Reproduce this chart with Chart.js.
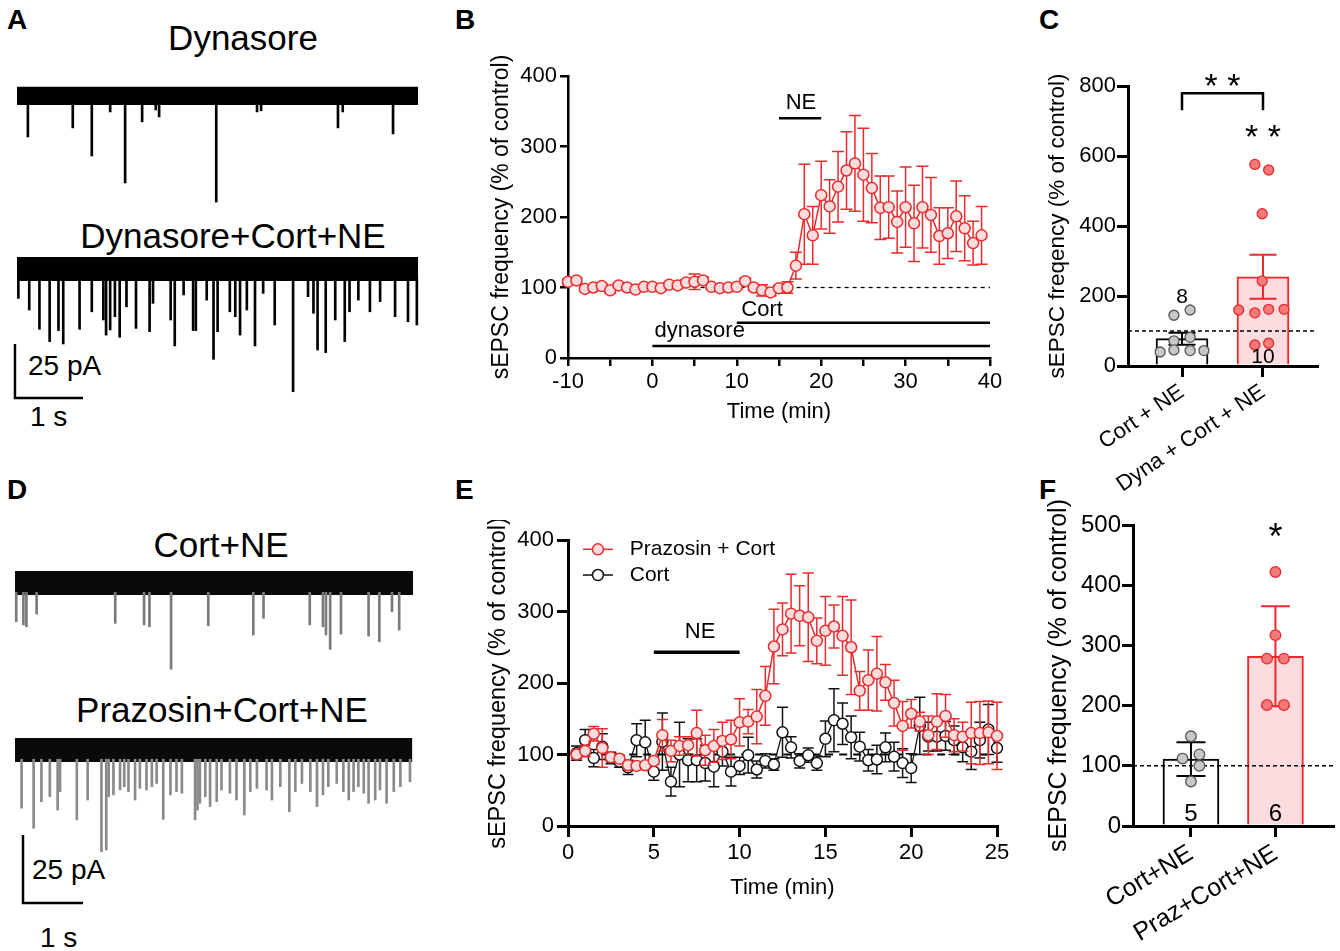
<!DOCTYPE html>
<html><head><meta charset="utf-8">
<script src="https://cdn.jsdelivr.net/npm/chart.js@4.4.1/dist/chart.umd.min.js"></script>
<style>
html,body{margin:0;padding:0;background:#fff;}
body{width:1340px;height:951px;position:relative;overflow:hidden;font-family:"Liberation Sans",Arial,sans-serif;color:#000;}
canvas{position:absolute;}
.t{position:absolute;line-height:1;white-space:nowrap;}
.L{font-weight:bold;font-size:28px;}
.h{font-size:35px;transform:translateX(-50%);}
.s{font-size:28px;}
</style></head><body>
<div class="t L" style="left:7px;top:6px">A</div>
<div class="t L" style="left:455px;top:6px">B</div>
<div class="t L" style="left:1039px;top:6px">C</div>
<div class="t L" style="left:7px;top:476px">D</div>
<div class="t L" style="left:455px;top:476px">E</div>
<div class="t L" style="left:1039px;top:476px">F</div>
<div class="t h" style="left:243px;top:20px">Dynasore</div>
<div class="t h" style="left:233px;top:218px">Dynasore+Cort+NE</div>
<div class="t h" style="left:221px;top:527px">Cort+NE</div>
<div class="t h" style="left:222px;top:692px">Prazosin+Cort+NE</div>
<div class="t s" style="left:28px;top:352px">25 pA</div>
<div class="t s" style="left:30px;top:403px">1 s</div>
<div class="t s" style="left:32px;top:856px">25 pA</div>
<div class="t s" style="left:40px;top:924px">1 s</div>

<canvas id="cA1" width="425" height="140" style="left:0;top:70px"></canvas>
<canvas id="cA2" width="425" height="185" style="left:0;top:245px"></canvas>
<canvas id="cD1" width="425" height="130" style="left:0;top:555px"></canvas>
<canvas id="cD2" width="425" height="190" style="left:0;top:725px"></canvas>
<canvas id="cB" width="526" height="373" style="left:484px;top:56px"></canvas>
<canvas id="cE" width="535" height="385" style="left:480px;top:520px"></canvas>
<canvas id="cF" width="300" height="451" style="left:1040px;top:500px"></canvas>
<canvas id="cC" width="300" height="466" style="left:1040px;top:40px"></canvas>
<script>
// ---------------- DATA ----------------
// Panel A traces (time in s, event amplitude in pA)
const a1Time = [0.16,0.82,1.10,1.37,1.59,1.84,2.04,2.09,2.93,3.53,3.59,4.72,4.79,5.53];
const a1Amp  = [-19.0,-14.8,-27.8,-7.4,-40.3,-12.0,-6.5,-9.7,-49.1,-7.4,-6.9,-14.8,-7.4,-17.6];
const a2Time = [0.02,0.18,0.33,0.48,0.61,0.68,0.92,1.10,1.27,1.31,1.37,1.44,1.51,1.61,1.75,1.95,2.00,2.26,2.32,2.45,2.59,2.63,2.79,2.89,2.95,3.13,3.21,3.28,3.38,3.50,3.62,3.79,4.06,4.28,4.36,4.42,4.54,4.68,4.82,4.89,5.02,5.19,5.34,5.56,5.75,5.88];
const a2Amp  = [-13.6,-19.0,-27.9,-33.6,-28.5,-34.7,-27.9,-19.8,-23.6,-30.6,-28.2,-22.1,-31.6,-17.5,-27.5,-29.0,-15.9,-23.6,-35.6,-12.0,-28.5,-28.5,-14.4,-41.8,-29.0,-19.8,-22.1,-30.6,-19.0,-35.6,-11.3,-25.9,-56.8,-12.8,-20.5,-37.5,-38.7,-23.6,-33.6,-19.8,-14.4,-19.8,-15.1,-22.1,-24.4,-25.9];
// Panel D traces
const d1Time = [0.02,0.14,0.19,0.36,1.67,2.15,2.24,2.60,3.22,3.97,4.14,4.91,5.13,5.18,5.25,5.43,5.89,6.07,6.28,6.40];
const d1Amp  = [-14.2,-15.4,-16.1,-11.4,-14.8,-15.4,-16.1,-31.7,-15.7,-19.1,-13.0,-15.4,-16.1,-19.1,-24.4,-18.8,-19.5,-21.6,-10.6,-17.3];
const d2Time = [0.11,0.31,0.44,0.58,0.71,0.75,1.03,1.21,1.44,1.52,1.56,1.64,1.75,1.82,1.89,2.00,2.08,2.19,2.28,2.36,2.47,2.59,2.69,2.78,3.00,3.04,3.08,3.17,3.25,3.36,3.44,3.58,3.69,3.82,3.92,4.03,4.19,4.28,4.42,4.57,4.67,4.78,4.92,5.03,5.13,5.22,5.36,5.47,5.56,5.64,5.72,5.81,5.89,6.00,6.08,6.19,6.31,6.42,6.58];
const d2Amp  = [-21.4,-28.8,-19.0,-17.2,-22.1,-15.3,-25.7,-18.4,-37.4,-36.8,-17.2,-16.5,-14.7,-13.5,-15.3,-18.4,-14.1,-14.7,-13.5,-12.3,-25.5,-16.5,-15.3,-15.9,-25.7,-22.1,-19.6,-17.2,-20.8,-19.0,-14.7,-15.9,-18.4,-23.9,-15.3,-14.1,-14.7,-18.4,-13.5,-22.7,-15.3,-12.3,-15.3,-20.8,-16.5,-13.5,-12.3,-15.3,-18.4,-15.3,-13.5,-15.9,-19.6,-18.4,-14.7,-19.6,-15.3,-13.5,-11.7];
const scaleBarPA = 25, scaleBarS = 1;

// Panel B
const bTime = [-10,-9,-8,-7,-6,-5,-4,-3,-2,-1,0,1,2,3,4,5,6,7,8,9,10,11,12,13,14,15,16,17,18,19,20,21,22,23,24,25,26,27,28,29,30,31,32,33,34,35,36,37,38,39];
const bMean = [108,110,98,100,102,96,103,100,97,101,101,99,104,103,107,108,110,101,99,100,101,109,100,96,93,99,100,131,204,174,231,215,243,266,276,260,241,213,214,193,214,191,214,203,173,177,201,184,163,174];
const bErr  = [4,4,3,3,3,4,3,3,3,3,3,3,3,4,4,11,5,3,3,3,3,4,4,8,5,4,8,19,71,41,48,38,50,55,68,66,49,45,44,44,57,54,58,53,40,36,50,46,31,41];
const bNEBar = [15,20], bCortBar = [10,40], bDynaBar = [0,40];

// Panel C
const cCats = ['Cort + NE','Dyna + Cort + NE'];
const cMean = [78,255];
const cErr  = [17,63];
const cN    = ['8','10'];
const cPts1 = [40,145,160,72,82,46,44,44];
const cJit1 = [-0.27,-0.1,0.1,-0.1,0.1,-0.1,0.1,0.27];
const cPts2 = [576,560,435,243,160,152,162,162,60,65];
const cJit2 = [-0.1,0.07,-0.01,-0.01,-0.3,-0.1,0.07,0.26,-0.1,0.07];

// Panel E
const eTime = [0.5,1,1.5,2,2.5,3,3.5,4,4.5,5,5.5,6,6.5,7,7.5,8,8.5,9,9.5,10,10.5,11,11.5,12,12.5,13,13.5,14,14.5,15,15.5,16,16.5,17,17.5,18,18.5,19,19.5,20,20.5,21,21.5,22,22.5,23,23.5,24,24.5,25];
const ePraz    = [100,105,129,109,96,94,85,84,85,91,127,105,112,113,130,106,112,119,121,145,146,153,182,251,275,297,294,292,259,273,279,266,250,189,204,213,201,172,140,157,146,127,146,154,127,125,130,130,131,126];
const ePrazErr = [6,8,10,27,5,5,5,5,5,5,22,15,13,12,32,21,23,26,27,33,17,38,41,52,37,55,42,62,32,48,30,55,66,27,42,52,25,32,34,20,13,27,39,30,23,20,43,44,44,47];
const eCort    = [102,120,95,111,95,90,82,120,117,76,118,62,100,92,92,88,83,104,76,84,99,79,91,86,131,110,91,99,88,122,148,143,124,111,92,93,110,97,88,81,140,125,125,126,120,110,104,120,135,109];
const eCortErr = [10,15,12,18,8,8,10,23,31,12,40,20,45,30,30,25,28,20,20,12,25,12,10,8,35,15,10,10,10,25,44,29,30,20,15,20,20,20,20,20,40,20,20,20,20,20,25,25,35,20];
const eNEBar = [5,10];
const eSeries = ['Prazosin + Cort','Cort'];

// Panel F
const fCats = ['Cort+NE','Praz+Cort+NE'];
const fMean = [111,282];
const fErr  = [28,83];
const fN    = ['5','6'];
const fPts1 = [149,112,119,100,74];
const fJit1 = [0,-0.1,0.1,0.1,0];
const fPts2 = [422,317,278,278,201,201];
const fJit2 = [0,0,-0.1,0.1,-0.1,0.1];

// ---------------- STYLE / HELPERS ----------------
const FONT = '"Liberation Sans", Arial, sans-serif';
const RED = '#ec2a2c', PINK = '#fddcdd', PINKBAR = '#fcdcdf', REDPT = '#f17a7b';
Chart.defaults.font.family = FONT;
Chart.defaults.color = '#000';
Chart.defaults.animation = false;
Chart.defaults.plugins.legend.display = false;
Chart.defaults.plugins.tooltip.enabled = false;

function drawErr(chart, i, phase){
  const ds = chart.data.datasets[i];
  if(!ds.errors || (ds.errPhase || 'after') !== phase) return;
  const meta = chart.getDatasetMeta(i);
  const ys = chart.scales[meta.yAxisID];
  const ctx = chart.ctx;
  ctx.save();
  meta.data.forEach((el, j) => {
    const e = ds.errors[j]; if(!e) return;
    const v = ds.data[j].y;
    const x = el.x;
    const yt = ys.getPixelForValue(v + e), yb = ys.getPixelForValue(v - e);
    const c = ds.errCap / 2;
    ctx.strokeStyle = Array.isArray(ds.errColor) ? ds.errColor[j] : ds.errColor;
    ctx.lineWidth = ds.errWidth;
    ctx.beginPath();
    ctx.moveTo(x, yt); ctx.lineTo(x, yb);
    ctx.moveTo(x - c, yt); ctx.lineTo(x + c, yt);
    ctx.moveTo(x - c, yb); ctx.lineTo(x + c, yb);
    ctx.stroke();
  });
  ctx.restore();
}
const errPlugin = {
  id: 'errbars',
  beforeDatasetDraw(chart, args){ drawErr(chart, args.index, 'before'); },
  afterDatasetDraw(chart, args){ drawErr(chart, args.index, 'after'); }
};
function textPlugin(items){
  return {
    id: 'txt',
    afterDraw(chart){
      const ctx = chart.ctx, xs = chart.scales.x, ys = chart.scales.y;
      ctx.save();
      items.forEach(it => {
        ctx.font = it.size + 'px ' + FONT;
        ctx.fillStyle = '#000';
        ctx.textAlign = it.align || 'center';
        const px = xs.getPixelForValue(it.x), py = ys.getPixelForValue(it.y);
        if(it.star){ ctx.textBaseline = 'alphabetic'; ctx.fillText(it.t, px, py + 0.58 * it.size); }
        else { ctx.textBaseline = 'middle'; ctx.fillText(it.t, px, py); }
      });
      ctx.restore();
    }
  };
}
function yAxis(min, max, step, size, tl, lw, pad, title, tsize, width){
  return {
    type: 'linear', min, max,
    ticks: { stepSize: step, font: { size }, padding: pad },
    grid: { display: true, drawOnChartArea: false, drawTicks: true, tickLength: tl, lineWidth: lw, color: '#000' },
    border: { display: true, color: '#000', width: lw },
    title: { display: true, text: title, font: { size: tsize }, padding: { top: 4, bottom: 4 } },
    afterFit: s => { s.width = width; }
  };
}

// ---------------- TRACES ----------------
function trace(id, o){
  const datasets = [
    { type: 'line', data: [{x:0,y:o.band},{x:o.tEnd,y:o.band}], borderWidth: 0, pointRadius: 0, fill: '+1', backgroundColor: o.bandColor, order: 3 },
    { type: 'line', data: [{x:0,y:-o.band},{x:o.tEnd,y:-o.band}], borderWidth: 0, pointRadius: 0, fill: false, order: 3 },
    { type: 'bar', data: o.times.map((t,i) => ({x: t, y: [-o.band + 1, o.amps[i]]})), backgroundColor: o.color, barThickness: 2, order: 2 }
  ];
  if(o.bar){
    const b = o.bar;
    datasets.push({ type: 'line', data: [{x:b.t,y:b.y + scaleBarPA},{x:b.t,y:b.y},{x:b.t + scaleBarS,y:b.y}], borderColor: '#000', borderWidth: 2.5, pointRadius: 0, fill: false, tension: 0, order: 1, clip: false });
  }
  new Chart(document.getElementById(id), {
    type: 'bar',
    data: { datasets },
    options: {
      responsive: false,
      layout: { padding: 0 },
      scales: {
        x: { type: 'linear', display: false, min: o.xMin, max: o.xMax, offset: false, grid: { offset: false } },
        y: { type: 'linear', display: false, min: o.yMin, max: o.yMax }
      }
    }
  });
}
trace('cA1', { times: a1Time, amps: a1Amp, band: 4.2, tEnd: 5.9, xMin: -0.25, xMax: 6.0, yMin: -52.8, yMax: 12.0, color: '#000', bandColor: '#000' });
trace('cA2', { times: a2Time, amps: a2Amp, band: 5.5, tEnd: 5.9, xMin: -0.25, xMax: 6.0, yMin: -74.5, yMax: 11.1, color: '#000', bandColor: '#000', bar: { t: -0.03, y: -59.7 } });
trace('cD1', { times: d1Time, amps: d1Amp, band: 4.4, tEnd: 6.63, xMin: -0.25, xMax: 6.83, yMin: -37.5, yMax: 10.3, color: '#7a7a7a', bandColor: '#0a0a0a' });
trace('cD2', { times: d2Time, amps: d2Amp, band: 4.4, tEnd: 6.62, xMin: -0.25, xMax: 6.83, yMin: -60.7, yMax: 9.2, color: '#8a8a8a', bandColor: '#0a0a0a', bar: { t: 0.133, y: -56.25 } });

// ---------------- PANEL B ----------------
new Chart(document.getElementById('cB'), {
  type: 'line',
  data: { datasets: [
    { data: bTime.map((t,i) => ({x: t, y: bMean[i]})), errors: bErr, errPhase: 'before', errColor: RED, errCap: 12, errWidth: 1.5,
      borderColor: RED, borderWidth: 1.5, pointRadius: 5.5, pointBorderWidth: 1.5, pointBorderColor: RED, pointBackgroundColor: PINK, clip: false, order: 1 },
    { data: [{x:-8.5,y:100},{x:40,y:100}], borderColor: '#000', borderWidth: 1.3, borderDash: [4,4], pointRadius: 0, order: 3 },
    { data: [{x:bNEBar[0],y:340},{x:bNEBar[1],y:340}], borderColor: '#000', borderWidth: 2.5, pointRadius: 0, order: 2 },
    { data: [{x:bCortBar[0],y:50},{x:bCortBar[1],y:50}], borderColor: '#000', borderWidth: 2.5, pointRadius: 0, order: 2 },
    { data: [{x:bDynaBar[0],y:17},{x:bDynaBar[1],y:17}], borderColor: '#000', borderWidth: 2.5, pointRadius: 0, order: 2 }
  ]},
  options: {
    responsive: false,
    layout: { padding: { top: 20, right: 20, left: 0, bottom: 0 } },
    scales: {
      x: { type: 'linear', min: -10, max: 40,
        ticks: { stepSize: 5, autoSkip: false, maxRotation: 0, font: { size: 22 }, padding: 3, callback: v => (v % 10 === 0 ? String(v) : '') },
        grid: { display: true, drawOnChartArea: false, tickLength: 8, lineWidth: 2.5, color: '#000' },
        border: { display: true, color: '#000', width: 2.5 },
        title: { display: true, text: 'Time (min)', font: { size: 22 }, padding: { top: 4, bottom: 4 } },
        afterFit: s => { s.height = 71; } },
      y: yAxis(0, 400, 100, 22, 8, 2.5, 3, 'sEPSC frequency (% of control)', 23, 84)
    }
  },
  plugins: [errPlugin, textPlugin([
    { t: 'NE', x: 17.6, y: 362, size: 22 },
    { t: 'Cort', x: 13.0, y: 68, size: 22 },
    { t: 'dynasore', x: 5.6, y: 38, size: 22 }
  ])]
});

// ---------------- PANEL E ----------------
const legendE = {
  id: 'legE',
  afterDraw(chart){
    const ctx = chart.ctx, xs = chart.scales.x, ys = chart.scales.y;
    const rows = [[387, RED, PINK], [351, '#111', '#fff']];
    ctx.save();
    rows.forEach((r, i) => {
      const y = ys.getPixelForValue(r[0]);
      const x0 = xs.getPixelForValue(0.87), x1 = xs.getPixelForValue(2.62), xm = (x0 + x1) / 2;
      ctx.strokeStyle = r[1]; ctx.lineWidth = 1.5;
      ctx.beginPath(); ctx.moveTo(x0, y); ctx.lineTo(x1, y); ctx.stroke();
      ctx.beginPath(); ctx.arc(xm, y, 5.5, 0, Math.PI * 2); ctx.fillStyle = r[2]; ctx.fill(); ctx.stroke();
      ctx.fillStyle = '#000'; ctx.font = '21px ' + FONT; ctx.textAlign = 'left'; ctx.textBaseline = 'middle';
      ctx.fillText(eSeries[i], xs.getPixelForValue(3.6), y);
    });
    ctx.restore();
  }
};
new Chart(document.getElementById('cE'), {
  type: 'line',
  data: { datasets: [
    { data: eTime.map((t,i) => ({x: t, y: ePraz[i]})), errors: ePrazErr, errPhase: 'before', errColor: RED, errCap: 11, errWidth: 1.5,
      borderColor: RED, borderWidth: 1.5, pointRadius: 5.5, pointBorderWidth: 1.5, pointBorderColor: RED, pointBackgroundColor: PINK, clip: false, order: 1 },
    { data: eTime.map((t,i) => ({x: t, y: eCort[i]})), errors: eCortErr, errPhase: 'before', errColor: '#111', errCap: 11, errWidth: 1.5,
      borderColor: '#111', borderWidth: 1.3, pointRadius: 5.5, pointBorderWidth: 1.5, pointBorderColor: '#111', pointBackgroundColor: '#fff', clip: false, order: 2 },
    { data: [{x:0.3,y:100},{x:24.7,y:100}], borderColor: '#000', borderWidth: 2, borderDash: [8,6], pointRadius: 0, order: 3 },
    { data: [{x:eNEBar[0],y:243},{x:eNEBar[1],y:243}], borderColor: '#000', borderWidth: 3.5, pointRadius: 0, order: 3 }
  ]},
  options: {
    responsive: false,
    layout: { padding: { top: 20, right: 18, left: 0, bottom: 0 } },
    scales: {
      x: { type: 'linear', min: 0, max: 25,
        ticks: { stepSize: 5, autoSkip: false, maxRotation: 0, font: { size: 22 }, padding: 3 },
        grid: { display: true, drawOnChartArea: false, tickLength: 11, lineWidth: 3, color: '#000' },
        border: { display: true, color: '#000', width: 3 },
        title: { display: true, text: 'Time (min)', font: { size: 22 }, padding: { top: 4, bottom: 4 } },
        afterFit: s => { s.height = 79; } },
      y: yAxis(0, 400, 100, 22, 11, 3, 3, 'sEPSC frequency (% of control)', 23.5, 88)
    }
  },
  plugins: [errPlugin, legendE, textPlugin([{ t: 'NE', x: 7.7, y: 271, size: 22 }])]
});

// ---------------- BAR PANELS ----------------
function barPanel(id, o){
  new Chart(document.getElementById(id), {
    type: 'bar',
    data: { datasets: [
      { type: 'bar', data: [{x:0,y:o.mean[0]},{x:1,y:o.mean[1]}], backgroundColor: ['#fff', PINKBAR], borderColor: ['#000', RED], borderWidth: 2,
        borderSkipped: 'start', barThickness: o.barW, errors: o.err, errColor: ['#000', RED], errCap: o.cap, errWidth: 2, errPhase: 'after', order: 4 },
      { type: 'line', data: [{x:o.xMin,y:100},{x:o.xMax,y:100}], borderColor: '#000', borderWidth: 1.5, borderDash: [4,3], pointRadius: 0, order: 3 },
      { type: 'scatter', data: o.p1.map((y,i) => ({x: o.j1[i], y})), pointRadius: o.pr, pointBackgroundColor: '#c8c8c8', pointBorderColor: '#555', pointBorderWidth: 1.3, order: 1, clip: false },
      { type: 'scatter', data: o.p2.map((y,i) => ({x: 1 + o.j2[i], y})), pointRadius: o.pr, pointBackgroundColor: REDPT, pointBorderColor: RED, pointBorderWidth: 1.3, order: 1, clip: false }
    ].concat(o.extra || []) },
    options: {
      responsive: false,
      layout: { padding: { top: o.padTop, right: o.padRight, left: 0, bottom: 0 } },
      scales: {
        x: { type: 'linear', min: o.xMin, max: o.xMax, offset: false,
          afterBuildTicks: s => { s.ticks = [{value: 0}, {value: 1}]; },
          ticks: { autoSkip: false, minRotation: o.rot, maxRotation: o.rot, font: { size: o.xFont }, padding: 2, callback: (v, i) => o.cats[i] },
          grid: { display: true, drawOnChartArea: false, tickLength: 11, lineWidth: 3, color: '#000', offset: false },
          border: { display: true, color: '#000', width: 3 },
          afterFit: s => { s.height = o.xH; } },
        y: yAxis(0, o.yMax, o.yStep, o.yFont, 11, 3, 1, o.title, o.tFont, o.yW)
      }
    },
    plugins: [errPlugin, textPlugin(o.texts)]
  });
}
barPanel('cC', {
  mean: cMean, err: cErr, cats: cCats, p1: cPts1, j1: cJit1, p2: cPts2, j2: cJit2,
  barW: 52, cap: 27, pr: 5, xMin: -0.667, xMax: 1.667, rot: 34, xFont: 22, xH: 140,
  yMax: 800, yStep: 200, yFont: 22, title: 'sEPSC freqency (% of control)', tFont: 22.5, yW: 88, padTop: 46, padRight: 23,
  extra: [{ type: 'line', data: [{x:0,y:731},{x:0,y:779},{x:1,y:779},{x:1,y:731}], borderColor: '#000', borderWidth: 2.5, pointRadius: 0, tension: 0, order: 1, clip: false }],
  texts: [
    { t: cN[0], x: 0, y: 196, size: 21 },
    { t: cN[1], x: 1, y: 24, size: 21 },
    { t: '* *', x: 0.5, y: 826, size: 34, star: true },
    { t: '* *', x: 1, y: 680, size: 34, star: true }
  ]
});
barPanel('cF', {
  mean: fMean, err: fErr, cats: fCats, p1: fPts1, j1: fJit1, p2: fPts2, j2: fJit2,
  barW: 56, cap: 29, pr: 5.3, xMin: -0.686, xMax: 1.686, rot: 31, xFont: 25, xH: 125,
  yMax: 500, yStep: 100, yFont: 24, title: 'sEPSC frequency (% of control)', tFont: 25, yW: 93, padTop: 25, padRight: 3,
  texts: [
    { t: fN[0], x: 0, y: 20, size: 24 },
    { t: fN[1], x: 1, y: 20, size: 24 },
    { t: '*', x: 1, y: 495, size: 36, star: true }
  ]
});
</script>
</body></html>
